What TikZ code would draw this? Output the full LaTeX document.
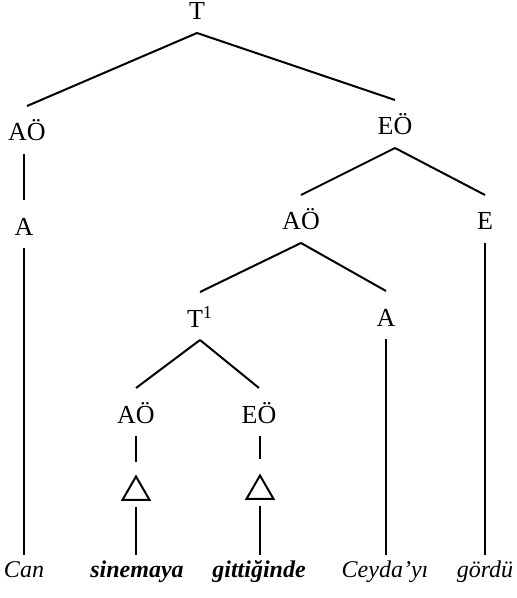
\documentclass[tikz,border=0pt]{standalone}
\usepackage{fontspec}
\setmainfont{Liberation Serif}
\usetikzlibrary{shapes.geometric}

\begin{document}
\begin{tikzpicture}[x=0.5pt, y=-0.5pt,
  lab/.style={anchor=base, inner sep=0pt, outer sep=0pt, text height=17.5pt, text depth=6.5pt, font=\fontsize{13}{15}\selectfont},
  word/.style={anchor=base, inner sep=0pt, outer sep=0pt, text height=11pt, text depth=0pt, font=\fontsize{12}{14}\selectfont\itshape},
  tri/.style={regular polygon, regular polygon sides=3, draw, line width=1pt, minimum size=15.5pt, inner sep=0pt, outer sep=0pt},
  br/.style={line width=1pt}
]
  \useasboundingbox[fill=white] (0,0) rectangle (516,598);

  \node[lab] (t)   at (197,20)  {T};
  \node[lab] (ao1) at (27,141)  {AÖ};
  \node[lab] (eo1) at (395,135) {EÖ};
  \node[lab] (a1)  at (24,235)  {A};
  \node[lab] (ao2) at (301,230) {AÖ};
  \node[lab] (e1)  at (485,230) {E};
  \node[lab] (t1)  at (200,327) {T\textsuperscript{1}};
  \node[lab] (a2)  at (386,326) {A};
  \node[lab] (ao3) at (136,423) {AÖ};
  \node[lab] (eo2) at (259,423) {EÖ};
  \node[tri] (tri1) at (136,492) {};
  \node[tri] (tri2) at (260,491) {};

  \node[word] (w1) at (24,577)  {Can};
  \node[word] (w2) at (137,577) {\bfseries sinemaya};
  \node[word] (w3) at (259,577) {\bfseries gittiğinde};
  \node[word] (w4) at (385,577) {Ceyda’yı};
  \node[word] (w5) at (485,577) {gördü};

  \draw[br] (t.south) -- (ao1.north);
  \draw[br] (t.south) -- (eo1.north);
  \draw[br] (ao1.south -| a1.north) -- (a1.north);
  \draw[br] (a1.south) -- (w1.north);
  \draw[br] (eo1.south) -- (ao2.north);
  \draw[br] (eo1.south) -- (e1.north);
  \draw[br] (e1.south) -- (w5.north);
  \draw[br] (ao2.south) -- (t1.north);
  \draw[br] (ao2.south) -- (a2.north);
  \draw[br] (a2.south) -- (a2.south |- w4.north);
  \draw[br] (t1.south) -- (ao3.north);
  \draw[br] (t1.south) -- (eo2.north);
  \draw[br, shorten >=7.5pt] (ao3.south) -- (tri1.corner 1);
  \draw[br, shorten >=8.5pt] (eo2.south -| tri2.corner 1) -- (tri2.corner 1);
  \draw[br, shorten <=3.5pt] (tri1.side 2) -- (tri1.side 2 |- w2.north);
  \draw[br, shorten <=3.5pt] (tri2.side 2) -- (tri2.side 2 |- w3.north);
\end{tikzpicture}
\end{document}
